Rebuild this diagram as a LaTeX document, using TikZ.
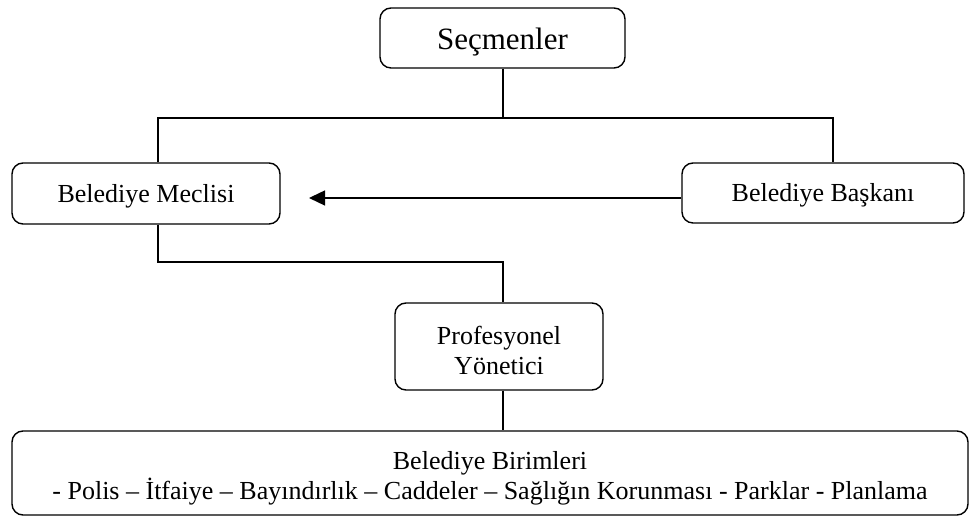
\documentclass[tikz,border=0pt]{standalone}
\usepackage{fontspec}
\setmainfont{Liberation Serif}
\usetikzlibrary{arrows.meta}
\begin{document}
\begin{tikzpicture}[x=1pt,y=1pt,
  box/.style={draw, line width=1.4pt, rounded corners=11pt, align=center,
    inner sep=0pt, font=\fontsize{26}{30}\selectfont},
  link/.style={line width=1.4pt},
  ]
\useasboundingbox (0,0) rectangle (970,518);

% boxes
\node[box, minimum width=245, minimum height=60, text height=24pt, text depth=0pt,
  font=\fontsize{31}{36}\selectfont] (secm) at (502.5,480) {Seçmenler};
\node[box, minimum width=268, minimum height=61, text height=18pt, text depth=0pt]
  (meclis) at (146,324.5) {Belediye Meclisi};
\node[box, minimum width=282, minimum height=60, text height=18pt, text depth=0pt]
  (baskan) at (823,325) {Belediye Başkanı};
\node[box, minimum width=208, minimum height=87, text height=57pt, text depth=0pt]
  (prof) at (499,171.5) {Profesyonel\\Yönetici};
\node[box, minimum width=956, minimum height=84, text height=59pt, text depth=5pt]
  (birim) at (490,45)
  {Belediye Birimleri\\- Polis – İtfaiye – Bayındırlık – Caddeler – Sağlığın Korunması - Parklar - Planlama};

% junction points of the tree
\coordinate (jt) at (503,400);
\coordinate (jb) at (503,256);
\coordinate (tip) at (309,320);

% connectors
\draw[link] (secm.south -| jt) -- (jt);
\draw[link] ([xshift=12pt]meclis.north) |- (jt) -| ([xshift=10pt]baskan.north);
\draw[link, -{Triangle[length=16pt,width=15pt]}] (baskan.west |- tip) -- (tip);
\draw[link] ([xshift=12pt]meclis.south) |- (jb) -- (prof.north -| jb);
\draw[link] (prof.south -| jb) -- (birim.north -| jb);
\end{tikzpicture}
\end{document}
